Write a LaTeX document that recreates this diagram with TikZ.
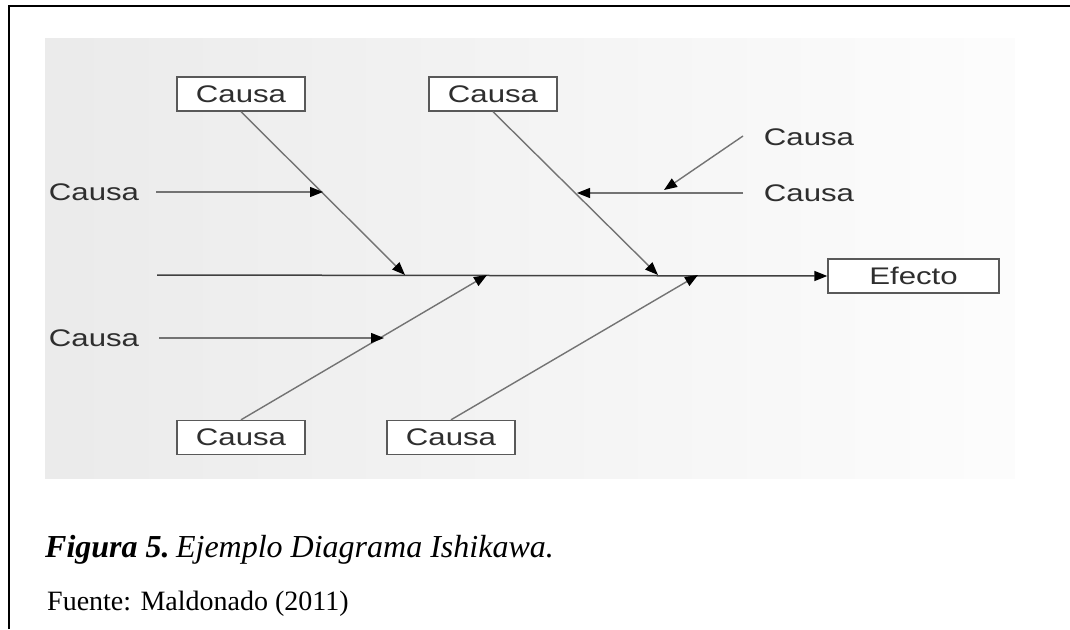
\documentclass[tikz,border=0pt]{standalone}
\usepackage{fontspec}
\setmainfont{Liberation Serif}
\newfontfamily\labfont[FakeStretch=1.3]{Liberation Sans}
\usetikzlibrary{arrows.meta}
\begin{document}
\begin{tikzpicture}[x=1pt,y=-1pt,
  lab/.style={font=\labfont\fontsize{24}{24}\selectfont, text=black!82, inner sep=0pt},
  cbox/.style={lab, draw=black!65, line width=1.4pt, fill=white,
    minimum width=128pt, minimum height=34pt},
  bone/.style={draw=black!55, line width=1.4pt},
  spine/.style={draw=black!75, line width=1.5pt},
  tip/.style={-{Triangle[length=13pt,width=10pt,color=black]}}
]
\useasboundingbox (0,0) rectangle (1070,629);
% frame
\draw[line width=2.5pt] (9,629) -- (9,6) -- (1070,6);
% diagram backdrop
\shade[left color=black!8, right color=black!1] (45,38) rectangle (1015,478);

% boxes
\node[cbox] (tl) at (241,94) {Causa};
\node[cbox] (tm) at (493,94) {Causa};
\node[cbox] (bl) at (241,437.5) {Causa};
\node[cbox] (bm) at (451,437.5) {Causa};
\node[cbox, minimum width=171pt] (ef) at (913.5,276) {Efecto};

% free labels
\node[lab] (l1) at (94,192) {Causa};
\node[lab] (l2) at (94,338) {Causa};
\node[lab] (r1) at (809,137) {Causa};
\node[lab] (r2) at (809,193) {Causa};

% points where the bones meet
\coordinate (s0) at (157,275);
\coordinate (s1) at (405,275);
\coordinate (s2) at (658,275);
\coordinate (s3) at (487,275);
\coordinate (s4) at (698,275);
\coordinate (m1) at (323,192);
\coordinate (m2) at (384,338);
\coordinate (m3) at (577,193);
\coordinate (m4) at (664,190);
\coordinate (r1e) at (743,136);
\coordinate (r2e) at (743,193);

% spine
\draw[spine, tip] (s0) -- (ef.west);

% main bones
\draw[bone, tip] (tl.south) -- (s1);
\draw[bone, tip] (tm.south) -- (s2);
\draw[bone, tip] (bl.north) -- (s3);
\draw[bone, tip] (bm.north) -- (s4);

% minor bones
\draw[bone, tip] ([xshift=17pt]l1.east) -- (m1);
\draw[bone, tip] ([xshift=20pt]l2.east) -- (m2);
\draw[bone, tip] (r2e) -- (m3);
\draw[bone, tip] (r1e) -- (m4);

% caption
\node[anchor=base west, inner sep=0pt, font=\fontsize{32}{32}\selectfont] (cap) at (45,557)
  {\textbf{\textit{Figura 5.}}\hspace{0.2em}\textit{Ejemplo Diagrama Ishikawa.}};
\node[anchor=base west, inner sep=0pt, font=\fontsize{28}{28}\selectfont] (src) at (47,610)
  {Fuente: Maldonado (2011)};
\end{tikzpicture}
\end{document}
